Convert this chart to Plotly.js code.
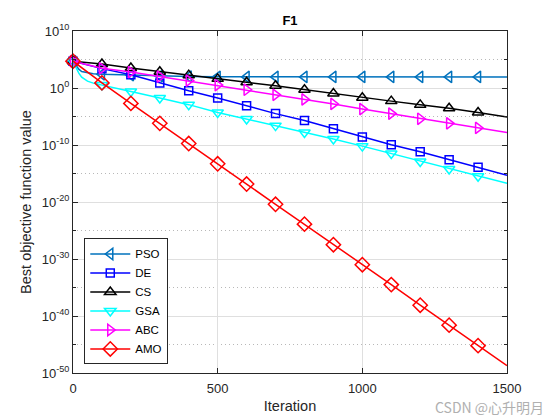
<!DOCTYPE html>
<html>
<head>
<meta charset="utf-8">
<script src="https://cdn.plot.ly/plotly-3.0.1.min.js"></script>
<style>html,body{margin:0;padding:0;background:#fff;}#chart{width:560px;height:420px;}</style>
</head>
<body>
<div id="chart"></div>
<script>
// Iterations where values were read (markers every 100, line ends at 1500)
var iterations = [0,100,200,300,400,500,600,700,800,900,1000,1100,1200,1300,1400,1500];
// Extra early iterations describing the fast initial drop of PSO and GSA
var earlyIters = [10,20,30,50,70];

var seriesNames = ['PSO','DE','CS','GSA','ABC','AMO'];

var psoVals = [5.0e4,2.5e2,1.8e2,1.26e2,1.0e2,9.0e1,8.9e1,8.9e1,8.9e1,8.9e1,8.9e1,8.9e1,8.9e1,8.9e1,8.9e1,8.9e1];
var psoEarly = [7.9e3,2.0e3,7.9e2,4.5e2,3.2e2];
var deVals  = [5.0e4,2.5e3,2.1e2,7.6,3.2e-1,1.8e-2,7.9e-4,3.2e-5,2.0e-6,7.2e-8,2.5e-9,1.1e-10,6.3e-12,2.5e-13,1.3e-14,5.0e-16];
var csVals  = [5.0e4,1.6e4,3.2e3,7.1e2,1.8e2,4.0e1,1.0e1,2.5,5.0e-1,1.1e-1,2.0e-2,5.0e-3,1.1e-3,2.8e-4,5.0e-5,7.9e-6];
var gsaVals = [5.0e4,3.5,2.5e-1,1.8e-2,1.2e-3,5.0e-5,3.6e-6,2.5e-7,1.6e-8,1.1e-9,6.3e-11,3.2e-12,1.3e-13,6.3e-15,3.2e-16,2.0e-17];
var gsaEarly = [4.0e3,4.0e2,7.9e1,1.6e1,7.1];
var abcVals = [5.0e4,2.8e3,6.3e2,1.0e2,2.0e1,3.2,5.0e-1,6.3e-2,1.0e-2,1.6e-3,2.0e-4,3.2e-5,4.0e-6,6.3e-7,1.0e-7,1.6e-8];
var amoVals = [5.0e4,7.9,2.0e-3,6.3e-7,1.8e-10,5.0e-14,1.4e-17,4.0e-21,1.3e-24,3.2e-28,1.0e-31,3.2e-35,7.9e-39,2.5e-42,6.3e-46,2.0e-49];

var yTickVals = [1e10,1e0,1e-10,1e-20,1e-30,1e-40,1e-50];
var yTickText = ['10<sup>10</sup>','10<sup>0</sup>','10<sup>-10</sup>','10<sup>-20</sup>','10<sup>-30</sup>','10<sup>-40</sup>','10<sup>-50</sup>'];
var yMinorVals = [1e5,1e-5,1e-15,1e-25,1e-35,1e-45];
var xTickVals = [0,500,1000,1500];

var styles = {
  PSO: {color:'#0072BD', symbol:'triangle-left-open', size:10},
  DE:  {color:'#0000FF', symbol:'square-open', size:8},
  CS:  {color:'#000000', symbol:'triangle-up-open', size:10},
  GSA: {color:'#00FFFF', symbol:'triangle-down-open', size:10},
  ABC: {color:'#FF00FF', symbol:'triangle-right-open', size:10},
  AMO: {color:'#FF0000', symbol:'diamond-open', size:11}
};

var valuesByName = {PSO:psoVals, DE:deVals, CS:csVals, GSA:gsaVals, ABC:abcVals, AMO:amoVals};
var earlyByName = {PSO:psoEarly, GSA:gsaEarly};

function merged(name){
  var pts = iterations.map(function(x,i){return [x, valuesByName[name][i]];});
  if (earlyByName[name]) {
    earlyIters.forEach(function(x,i){pts.push([x, earlyByName[name][i]]);});
  }
  pts.sort(function(a,b){return a[0]-b[0];});
  return {x:pts.map(function(p){return p[0];}), y:pts.map(function(p){return p[1];})};
}

var traces = [];
seriesNames.forEach(function(name){
  var s = styles[name];
  var m = merged(name);
  traces.push({type:'scatter', mode:'lines', x:m.x, y:m.y, showlegend:false, hoverinfo:'skip',
    line:{color:s.color, width:1.5}});
  var nMark = iterations.length - 1;
  traces.push({type:'scatter', mode:'markers', x:iterations.slice(0,nMark), y:valuesByName[name].slice(0,nMark),
    showlegend:false, cliponaxis:false, hoverinfo:'skip',
    marker:{symbol:s.symbol, size:s.size, color:s.color, line:{color:s.color, width:1.5}}});
});
seriesNames.forEach(function(name){
  var s = styles[name];
  traces.push({type:'scatter', mode:'lines+markers', x:[null], y:[null], name:name, showlegend:true,
    line:{color:s.color, width:1.5},
    marker:{symbol:s.symbol, size:s.size, color:s.color, line:{color:s.color, width:1.5}}});
});

var axisColor = '#262626';
var fontFam = '"Liberation Sans", Arial, Helvetica, sans-serif';

var layout = {
  width:560, height:420,
  margin:{l:73, r:53, t:31, b:47},
  paper_bgcolor:'#ffffff', plot_bgcolor:'#ffffff',
  font:{family:fontFam, color:axisColor, size:13},
  title:{text:'F1', font:{family:fontFam, size:13, weight:'bold', color:'#000000'},
    x:0.5, xref:'paper', y:1-20/420, yref:'container', xanchor:'center', yanchor:'middle'},
  xaxis:{range:[0,1500], tickmode:'array', tickvals:xTickVals, ticks:'inside', ticklen:5,
    tickcolor:axisColor, showline:true, linecolor:axisColor, linewidth:1, mirror:'ticks',
    showgrid:true, gridcolor:'#dfdfdf', zeroline:false, tickfont:{size:13, color:axisColor},
    ticklabelstandoff:3,
    title:{text:'Iteration', font:{size:14.5, color:axisColor}, standoff:6}},
  yaxis:{type:'log', range:[-50,10], tickmode:'array', tickvals:yTickVals, ticktext:yTickText,
    ticks:'inside', ticklen:5, tickcolor:axisColor, showline:true, linecolor:axisColor, linewidth:1,
    mirror:'ticks', showgrid:true, gridcolor:'#dfdfdf', zeroline:false, tickfont:{size:13, color:axisColor},
    minor:{tickmode:'array', tickvals:yMinorVals, ticks:'inside', ticklen:3, tickcolor:axisColor,
      showgrid:true, gridcolor:'#b8b8b8', griddash:'1px,3px', gridwidth:1},
    title:{text:'Best objective function value', font:{size:14.5, color:axisColor}, standoff:6}},
  legend:{x:0.026, y:0.025, xanchor:'left', yanchor:'bottom', bgcolor:'#ffffff',
    bordercolor:axisColor, borderwidth:1, font:{size:11.5, color:'#000000'}, itemwidth:40,
    traceorder:'normal', tracegroupgap:0},
  annotations:[{text:'CSDN @心升明月', xref:'paper', yref:'paper', x:(546-73)/434, y:(373-407)/342,
    xanchor:'right', yanchor:'middle', showarrow:false,
    font:{family:'"Noto Sans CJK SC", "Liberation Sans", sans-serif', size:14, color:'#b0b0b0'}}]
};

Plotly.newPlot('chart', traces, layout, {displayModeBar:false, staticPlot:true});
</script>
</body>
</html>
